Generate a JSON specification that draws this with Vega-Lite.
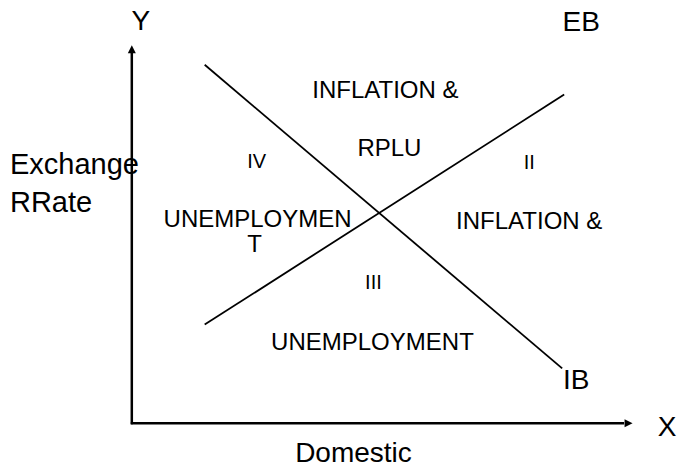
{
  "$schema": "https://vega.github.io/schema/vega-lite/v6.json",
  "width": 677,
  "height": 468,
  "autosize": {"type": "fit", "contains": "padding"},
  "padding": 0,
  "background": "white",
  "config": {"view": {"stroke": null}},
  "layer": [
    {
      "data": {"values": [
        {"x": 132, "y": 426, "x2": 132, "y2": 52},
        {"x": 131, "y": 425, "x2": 625, "y2": 425}
      ]},
      "mark": {"type": "rule", "strokeWidth": 2.5, "color": "black"},
      "encoding": {
        "x": {"field": "x", "type": "quantitative", "scale": {"domain": [0, 677]}, "axis": null},
        "y": {"field": "y", "type": "quantitative", "scale": {"domain": [468, 0]}, "axis": null},
        "x2": {"field": "x2"},
        "y2": {"field": "y2"}
      }
    },
    {
      "data": {"values": [
        {"x": 205, "y": 65, "x2": 563, "y2": 370},
        {"x": 205, "y": 326, "x2": 565, "y2": 95}
      ]},
      "mark": {"type": "rule", "strokeWidth": 1.8, "color": "black"},
      "encoding": {
        "x": {"field": "x", "type": "quantitative", "scale": {"domain": [0, 677]}, "axis": null},
        "y": {"field": "y", "type": "quantitative", "scale": {"domain": [468, 0]}, "axis": null},
        "x2": {"field": "x2"},
        "y2": {"field": "y2"}
      }
    },
    {
      "data": {"values": [{"x": 132, "y": 49.5, "dir": "up"}]},
      "mark": {"type": "point", "shape": "M-0.5,0.5L0,-0.5L0.5,0.5Z", "filled": true, "color": "black", "opacity": 1, "size": 256},
      "encoding": {
        "x": {"field": "x", "type": "quantitative", "scale": {"domain": [0, 677]}, "axis": null},
        "y": {"field": "y", "type": "quantitative", "scale": {"domain": [468, 0]}, "axis": null}
      }
    },
    {
      "data": {"values": [{"x": 629.5, "y": 425, "dir": "right"}]},
      "mark": {"type": "point", "shape": "M-0.5,-0.5L0.5,0L-0.5,0.5Z", "filled": true, "color": "black", "opacity": 1, "size": 256},
      "encoding": {
        "x": {"field": "x", "type": "quantitative", "scale": {"domain": [0, 677]}, "axis": null},
        "y": {"field": "y", "type": "quantitative", "scale": {"domain": [468, 0]}, "axis": null}
      }
    },
    {
      "data": {"values": [
        {"x": 141, "y": 30, "label": "Y"},
        {"x": 582, "y": 31, "label": "EB"},
        {"x": 668, "y": 438, "label": "X"},
        {"x": 577, "y": 391, "label": "IB"},
        {"x": 354, "y": 464, "label": "Domestic"}
      ]},
      "mark": {"type": "text", "font": "Liberation Sans", "fontSize": 28, "align": "center", "baseline": "alphabetic", "color": "black"},
      "encoding": {
        "x": {"field": "x", "type": "quantitative", "scale": {"domain": [0, 677]}, "axis": null},
        "y": {"field": "y", "type": "quantitative", "scale": {"domain": [468, 0]}, "axis": null},
        "text": {"field": "label"}
      }
    },
    {
      "data": {"values": [
        {"x": 10, "y": 175, "label": "Exchange"},
        {"x": 10, "y": 213, "label": "RRate"}
      ]},
      "mark": {"type": "text", "font": "Liberation Sans", "fontSize": 29, "align": "left", "baseline": "alphabetic", "color": "black"},
      "encoding": {
        "x": {"field": "x", "type": "quantitative", "scale": {"domain": [0, 677]}, "axis": null},
        "y": {"field": "y", "type": "quantitative", "scale": {"domain": [468, 0]}, "axis": null},
        "text": {"field": "label"}
      }
    },
    {
      "data": {"values": [
        {"x": 386, "y": 98, "label": "INFLATION &"},
        {"x": 390, "y": 157, "label": "RPLU"},
        {"x": 258, "y": 228, "label": "UNEMPLOYMEN"},
        {"x": 255, "y": 253, "label": "T"},
        {"x": 530, "y": 230, "label": "INFLATION &"},
        {"x": 373, "y": 351, "label": "UNEMPLOYMENT"}
      ]},
      "mark": {"type": "text", "font": "Liberation Sans", "fontSize": 24, "align": "center", "baseline": "alphabetic", "color": "black"},
      "encoding": {
        "x": {"field": "x", "type": "quantitative", "scale": {"domain": [0, 677]}, "axis": null},
        "y": {"field": "y", "type": "quantitative", "scale": {"domain": [468, 0]}, "axis": null},
        "text": {"field": "label"}
      }
    },
    {
      "data": {"values": [
        {"x": 257, "y": 169, "label": "IV"},
        {"x": 530, "y": 170, "label": "II"},
        {"x": 374, "y": 290, "label": "III"}
      ]},
      "mark": {"type": "text", "font": "Liberation Sans", "fontSize": 20, "align": "center", "baseline": "alphabetic", "color": "black"},
      "encoding": {
        "x": {"field": "x", "type": "quantitative", "scale": {"domain": [0, 677]}, "axis": null},
        "y": {"field": "y", "type": "quantitative", "scale": {"domain": [468, 0]}, "axis": null},
        "text": {"field": "label"}
      }
    }
  ]
}
